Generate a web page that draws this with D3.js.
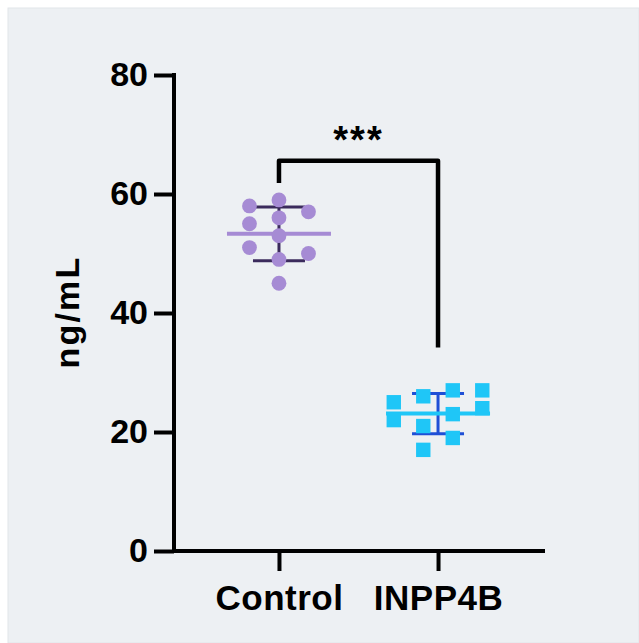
<!DOCTYPE html>
<html>
<head>
<meta charset="utf-8">
<script src="https://cdn.jsdelivr.net/npm/d3@7"></script>
<style>
  body { margin: 0; background: #fff; }
  svg { display: block; font-family: "Liberation Sans", Arial, sans-serif; }
</style>
</head>
<body>
<div id="chart"></div>
<script>
// data
var groups = ["Control", "INPP4B"];
var controlValues = [58, 59, 57, 55, 56, 53, 51, 50, 49, 45];
var controlLanes  = [-1, 0, 1, -1, 0, 0, -1, 1, 0, 0];
var inppValues = [25, 22, 26, 21, 17, 27, 23, 19, 27, 24];
var inppLanes  = [-1.5, -1.5, -0.5, -0.5, -0.5, 0.5, 0.5, 0.5, 1.5, 1.5];
var yTicks = [0, 20, 40, 60, 80];
var sigLabel = "***";

var width = 639, height = 643;
var laneGap = 29.5;

var svg = d3.select("#chart").append("svg").attr("width", width).attr("height", height);

svg.append("rect")
    .attr("x", 8).attr("y", 8)
    .attr("width", width - 8).attr("height", height - 8)
    .attr("fill", "#edf0f3")
    .attr("stroke", "#e2e5e9");

var x = d3.scalePoint().domain(groups).range([174, 543]).padding(0.66);
var y = d3.scaleLinear().domain([0, 80]).range([551, 75]);

var series = [
    {name: "Control", values: controlValues, lanes: controlLanes, shape: "circle",
     fill: "#a68bd4", bar: "#3b2b5c"},
    {name: "INPP4B", values: inppValues, lanes: inppLanes, shape: "square",
     fill: "#1fc6f7", bar: "#1f4fd6"}
];

series.forEach(function(s) {
    s.mean = d3.mean(s.values);
    s.sd = d3.deviation(s.values);
});

// axes
var yAxis = svg.append("g")
    .attr("transform", "translate(174,0)")
    .call(d3.axisLeft(y).tickValues(yTicks).tickSize(20).tickPadding(6).tickSizeOuter(0));
var xAxis = svg.append("g")
    .attr("transform", "translate(0,551)")
    .call(d3.axisBottom(x).tickSize(20).tickPadding(8).tickSizeOuter(0));

[yAxis, xAxis].forEach(function(a) {
    a.select(".domain").attr("stroke", "#000").attr("stroke-width", 4).attr("stroke-linecap", "square");
    a.selectAll(".tick line").attr("stroke", "#000").attr("stroke-width", 4);
    a.selectAll("text").attr("fill", "#000").style("font-size", "34px").style("font-weight", "bold")
        .style("font-family", "'Liberation Sans', Arial, sans-serif");
});
xAxis.select(".domain").attr("d", "M174,0H543");
yAxis.select(".domain").attr("d", "M0,75V551");
xAxis.selectAll("text").style("font-size", "35px").style("letter-spacing", "0.5px").attr("dy", "0.88em");

svg.append("text")
    .attr("transform", "translate(79,312) rotate(-90)")
    .attr("text-anchor", "middle")
    .style("font-size", "34px").style("font-weight", "bold")
    .style("letter-spacing", "2.2px")
    .text("ng/mL");

// mean + SD
series.forEach(function(s) {
    var cx = x(s.name);
    var g = svg.append("g");
    g.append("line")
        .attr("x1", cx).attr("x2", cx)
        .attr("y1", y(s.mean + s.sd)).attr("y2", y(s.mean - s.sd))
        .attr("stroke", s.bar).attr("stroke-width", 3);
    [s.mean + s.sd, s.mean - s.sd].forEach(function(v) {
        g.append("line")
            .attr("x1", cx - 26).attr("x2", cx + 26)
            .attr("y1", y(v)).attr("y2", y(v))
            .attr("stroke", s.bar).attr("stroke-width", 3);
    });
    g.append("line")
        .attr("x1", cx - 52).attr("x2", cx + 52)
        .attr("y1", y(s.mean)).attr("y2", y(s.mean))
        .attr("stroke", s.fill).attr("stroke-width", 4);
});

// points
series.forEach(function(s) {
    var pts = s.values.map(function(v, i) { return {v: v, lane: s.lanes[i]}; });
    var cx = x(s.name);
    if (s.shape === "circle") {
        svg.append("g").selectAll("circle")
            .data(pts).enter().append("circle")
            .attr("cx", d => cx + d.lane * laneGap)
            .attr("cy", d => y(d.v))
            .attr("r", 7.4)
            .attr("fill", s.fill);
    } else {
        svg.append("g").selectAll("rect")
            .data(pts).enter().append("rect")
            .attr("x", d => cx + d.lane * laneGap - 7.2)
            .attr("y", d => y(d.v) - 7.2)
            .attr("width", 14.4).attr("height", 14.4)
            .attr("fill", s.fill);
    }
});

// significance bracket
var bracketY = 65.6;
var x1 = x("Control"), x2 = x("INPP4B");
svg.append("path")
    .attr("d", "M" + x1 + "," + (y(controlValues[1]) - 17) + "V" + y(bracketY) + "H" + x2 + "V" + y(34.2))
    .attr("fill", "none").attr("stroke", "#000").attr("stroke-width", 4.5)
    .attr("stroke-linejoin", "round");
svg.append("text")
    .attr("x", (x1 + x2) / 2).attr("y", y(bracketY) - 8)
    .attr("text-anchor", "middle")
    .style("font-size", "38px").style("font-weight", "bold")
    .style("letter-spacing", "2px")
    .text(sigLabel);
</script>
</body>
</html>
